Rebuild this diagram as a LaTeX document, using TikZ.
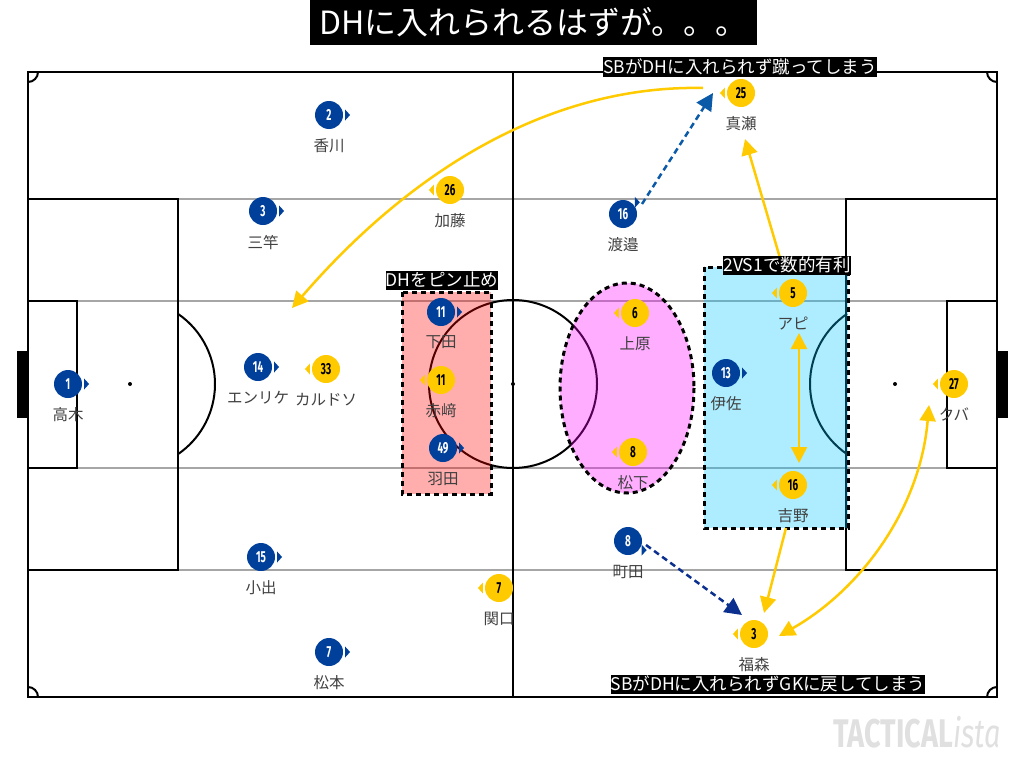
\documentclass[tikz,border=0pt]{standalone}
\usepackage{fontspec}
\setmainfont{Noto Sans CJK JP}
\newfontfamily\cjk{Noto Sans CJK JP}
\newfontfamily\numfont[FakeStretch=0.62]{Fira Sans}
\newfontfamily\logofont[FakeStretch=0.72]{Fira Sans}
\usetikzlibrary{arrows.meta,shapes.geometric,positioning}
\definecolor{bluecol}{HTML}{003F9A}
\definecolor{yellowcol}{HTML}{FFCB00}
\definecolor{passblue}{HTML}{0B5AA8}
\definecolor{passnavy}{HTML}{0A2F8F}
\definecolor{zonered}{HTML}{FF0000}
\definecolor{zonepink}{HTML}{FF00FF}
\definecolor{zonecyan}{HTML}{00C6FF}
\tikzset{
	pitchline/.style={black,line width=2pt},
	greyline/.style={black!35,line width=2pt},
	zonebox/.style={black,line width=3pt,dash pattern=on 5pt off 4pt,fill opacity=0.32},
	namelab/.style={anchor=north,yshift=-9.5pt,inner sep=0pt,text=black!75,font=\cjk\fontsize{15.5}{17}\selectfont},
	bluetip/.style={isosceles triangle,isosceles triangle stretches,shape border rotate=#1,fill=bluecol,inner sep=0pt,minimum height=5pt,minimum width=11pt,anchor=center,shift={(#1:4pt)}},
	yellowtip/.style={bluetip=#1,fill=yellowcol},
	bluep/.style={circle,fill=bluecol,text=white,inner sep=0pt,minimum size=28pt,
		font=\numfont\bfseries\fontsize{16}{16}\selectfont,label={[bluetip=#1]#1:{}}},
	bluep/.default=0,
	yellowp/.style={circle,fill=yellowcol,text=black,inner sep=0pt,minimum size=28pt,
		font=\numfont\bfseries\fontsize{16}{16}\selectfont,label={[yellowtip=#1]#1:{}}},
	yellowp/.default=180,
	blacklab/.style={fill=black,text=white,inner sep=0pt,minimum height=19pt,font=\cjk\fontsize{17.5}{19}\selectfont},
	run/.style={yellowcol,line width=2.5pt,-{Triangle[length=16pt,width=16pt]}},
	pass/.style={line width=2.5pt,dash pattern=on 6pt off 4pt,-{Triangle[length=17pt,width=17pt]}}
}

\begin{document}
\begin{tikzpicture}[x=1pt,y=-1pt]
	\useasboundingbox (0,0) rectangle (1024,768);
	
	% Grey lines
	\draw[greyline] (178,199) -- (846,199);
	\draw[greyline] (178,570) -- (846,570);
	\draw[greyline] (77,301) -- (947,301);
	\draw[greyline] (77,468) -- (947,468);
	
	% Pitch
	\draw[pitchline] (28,72) rectangle (997,697);
	\draw[pitchline] (513,72) -- (513,697);
	\draw[pitchline] (513,384) circle [radius=84];
	\draw[pitchline] (28,199) rectangle (178,570);
	\draw[pitchline] (846,199) rectangle (997,570);
	\draw[pitchline] (28,301) rectangle (77,468);
	\draw[pitchline] (947,301) rectangle (997,468);
	\draw[pitchline] (130,384) ++(-55.6:85) arc (-55.6:55.6:85);
	\draw[pitchline] (895,384) ++(124.4:85) arc (124.4:235.6:85);
	\fill (17,351) rectangle (28,418);
	\fill (997,351) rectangle (1008,418);
	\fill (130,384) circle [radius=2];
	\fill (513,384) circle [radius=2];
	\fill (895,384) circle [radius=2];
	
	% Corners
	\draw[pitchline] (38,72) arc (0:90:10);
	\draw[pitchline] (987,72) arc (180:90:10);
	\draw[pitchline] (28,687) arc (-90:0:10);
	\draw[pitchline] (987,697) arc (180:270:10);
	
	% Zones
	\draw[zonebox,fill=zonered] (402,292) rectangle (491,494);
	\draw[zonebox,fill=zonepink] (627,388) ellipse [x radius=67,y radius=105];
	\draw[zonebox,fill=zonecyan] (704,267) rectangle (848,528);
	
	% Blue team
	\node[bluep,label={[namelab]below:高木}] (takagi) at (68,384) {1};
	\node[bluep,label={[namelab]below:香川}] (kagawa) at (329,115) {2};
	\node[bluep,label={[namelab]below:三竿}] (misao) at (263,211) {3};
	\node[bluep,label={[namelab]below:エンリケ}] (enrique) at (258,367) {14};
	\node[bluep,label={[namelab]below:小出}] (koide) at (261,557) {15};
	\node[bluep,label={[namelab]below:松本}] (matsumoto) at (329,652) {7};
	\node[bluep,label={[namelab]below:下田}] (shimoda) at (441,312) {11};
	\node[bluep,label={[namelab]below:羽田}] (haneda) at (443,448) {49};
	\node[bluep,label={[namelab]below:伊佐}] (isa) at (726,373) {13};
	\node[bluep=40,label={[namelab]below:渡邉}] (watanabe) at (623,214) {16};
	\node[bluep=-30,label={[namelab]below:町田}] (machida) at (628,541) {8};
	
	% Yellow team
	\node[yellowp,label={[namelab]below:加藤}] (kato) at (450,190) {26};
	\node[yellowp,label={[namelab]below:カルドソ}] (cardoso) at (326,369) {33};
	\node[yellowp,label={[namelab]below:赤﨑}] (akasaki) at (441,380) {11};
	\node[yellowp,label={[namelab]below:上原}] (uehara) at (635,313) {6};
	\node[yellowp,label={[namelab]below:松下}] (matsushita) at (633,452) {8};
	\node[yellowp,label={[namelab]below:アピ}] (api) at (793,293) {5};
	\node[yellowp,label={[namelab]below:吉野}] (yoshino) at (793,485) {16};
	\node[yellowp,label={[namelab]below:関口}] (sekiguchi) at (499,588) {7};
	\node[yellowp,label={[namelab]below:福森}] (fukumori) at (754,634) {3};
	\node[yellowp,label={[namelab]below:真瀬}] (manase) at (741,93) {25};
	\node[yellowp,label={[namelab]below:クバ}] (kuba) at (954,384) {27};
	
	% Free ends of the arrows
	\coordinate (longfrom) at (703,88);
	\coordinate (longto) at (292,308);
	\coordinate (upfrom) at (780,258);
	\coordinate (upto) at (745,139);
	\coordinate (splittop) at (799,333);
	\coordinate (splitbot) at (799,463);
	\coordinate (downfrom) at (786,528);
	\coordinate (downto) at (764,613);
	\coordinate (gktop) at (929,405);
	\coordinate (gkbot) at (779,636);
	\coordinate (sbfrom) at (642,204);
	\coordinate (sbto) at (713,93);
	\coordinate (mfrom) at (646,545);
	\coordinate (mto) at (742,615);
	
	% Arrows
	\draw[run] (longfrom) .. controls (560,85) and (420,160) .. (longto);
	\draw[run] (upfrom) -- (upto);
	\draw[run,{Triangle[length=16pt,width=16pt]}-{Triangle[length=16pt,width=16pt]}] (splittop) -- (splitbot);
	\draw[run] (downfrom) -- (downto);
	\draw[run,{Triangle[length=16pt,width=16pt]}-{Triangle[length=16pt,width=16pt]}] (gktop) .. controls (920,510) and (860,590) .. (gkbot);
	\draw[pass,passblue] (sbfrom) -- (sbto);
	\draw[pass,passnavy] (mfrom) -- (mto);
	
	% Captions
	\node[fill=black,text=white,inner sep=0pt,minimum width=447pt,minimum height=45pt,font=\cjk\fontsize{32}{36}\selectfont] (title) at (533.5,22.5) {DHに入れられるはずが。。。};
	\node[blacklab] (pinlab) at (442,280) {DHをピン止め};
	\node[blacklab] (vslab) at (787,265) {2VS1で数的有利};
	\node[blacklab] (kicklab) at (740,67) {SBがDHに入れられず蹴ってしまう};
	\node[blacklab] (backlab) at (768,684) {SBがDHに入れられずGKに戻してしまう};
	
	% Logo
	\node[inner sep=0pt,text=black!12,font=\logofont\bfseries\fontsize{40}{42}\selectfont] (logo) at (917,732) {TACTICAL{\mdseries\itshape ista}};
\end{tikzpicture}
\end{document}
